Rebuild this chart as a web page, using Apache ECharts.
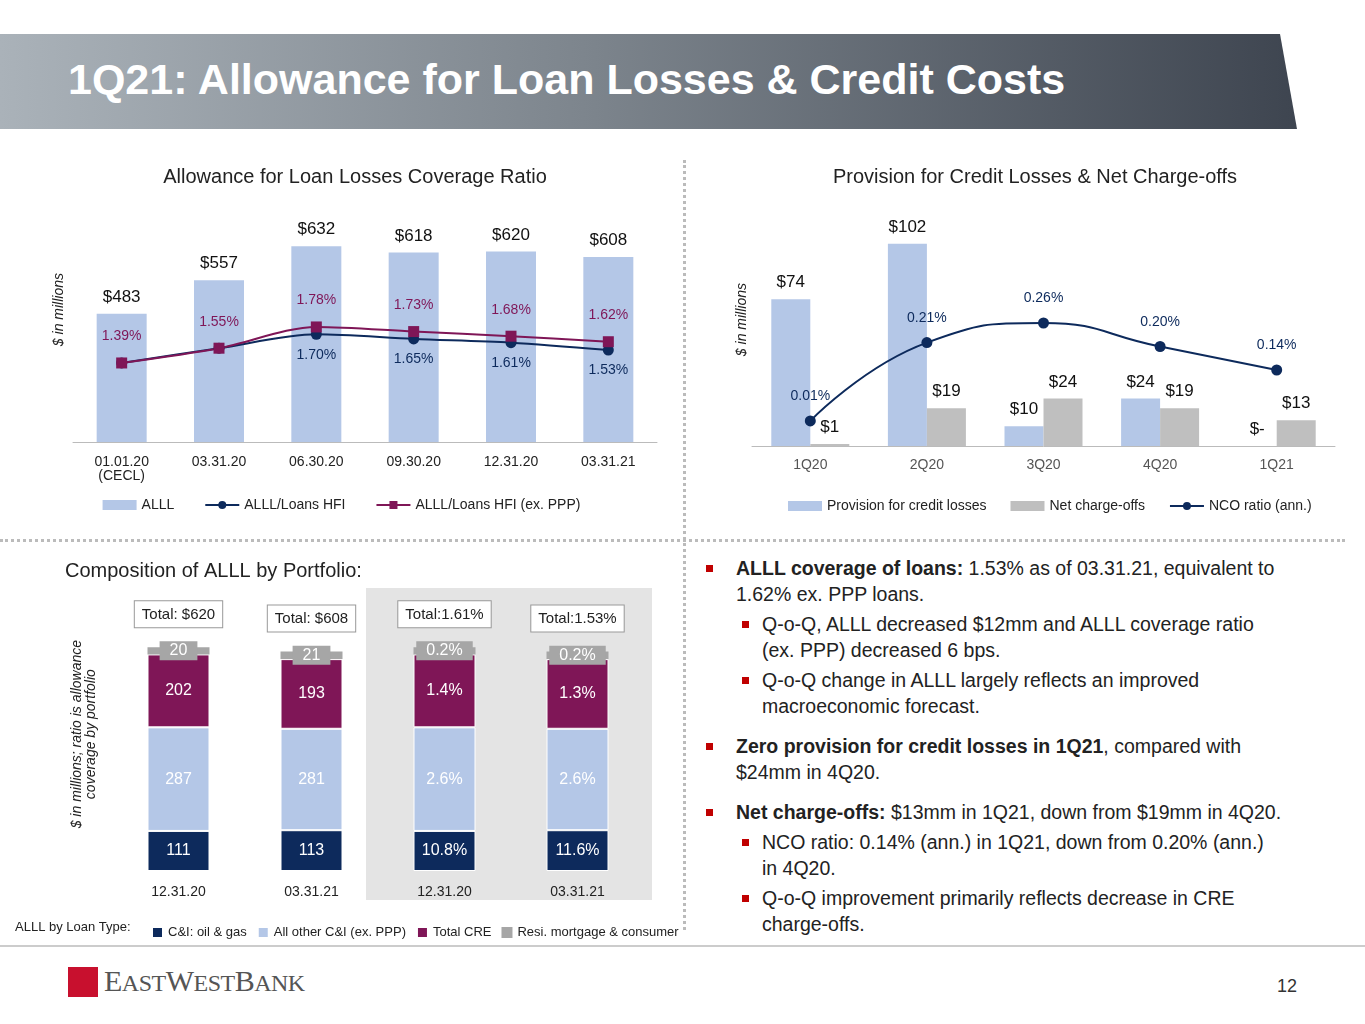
<!DOCTYPE html>
<html><head><meta charset="utf-8">
<script src="https://cdn.jsdelivr.net/npm/echarts@6/dist/echarts.min.js"></script>
<style>
body{margin:0;width:1365px;height:1024px;background:#fff;font-family:"Liberation Sans",Arial,sans-serif;position:relative;overflow:hidden}
.abs{position:absolute}
#banner{left:0;top:34px;width:1297px;height:95px;background:linear-gradient(90deg,#aab2b9 0%,#7d858d 45%,#3e4550 100%);clip-path:polygon(0 0,1280px 0,1297px 95px,0 95px)}
#title{left:68px;top:55px;color:#fff;font-weight:bold;font-size:43px;font-family:"Liberation Sans",Arial,sans-serif;white-space:nowrap}
.bl{font-size:19.5px;color:#222;line-height:26px}
.sq{position:absolute;width:7px;height:7px;background:#c00000}
</style></head><body>
<div id="banner" class="abs"></div>
<div id="title" class="abs">1Q21: Allowance for Loan Losses &amp; Credit Costs</div>
<div class="abs" style="left:683px;top:160px;height:770px;border-left:3px dotted #bbb"></div>
<div class="abs" style="left:0;top:539px;width:1345px;border-top:3px dotted #bbb"></div>
<div class="abs" style="left:366px;top:588px;width:286px;height:312px;background:#e4e4e4"></div>
<div id="c1" class="abs" style="left:0;top:140px;width:683px;height:400px"></div>
<div id="c2" class="abs" style="left:683px;top:140px;width:682px;height:400px"></div>
<div id="c3" class="abs" style="left:0;top:540px;width:683px;height:420px"></div>
<div class="abs" style="left:0;top:945px;width:1365px;border-top:2px solid #ccc"></div>
<div class="abs" style="left:68px;top:967px;width:30px;height:30px;background:#c8102e"></div>
<div class="abs" style="left:104px;top:964px;font-family:'Liberation Serif',serif;font-size:30px;color:#555;letter-spacing:-0.5px">E<span style="font-size:24px">AST</span>W<span style="font-size:24px">EST</span>B<span style="font-size:24px">ANK</span></div>
<div class="abs" style="left:1277px;top:976px;font-size:18px;color:#333">12</div>
<div class="abs bl" style="left:706px;top:555px;width:620px">
<div style="position:relative;padding-left:30px"><div class="sq" style="left:0;top:10px"></div><b>ALLL coverage of loans:</b> 1.53% as of 03.31.21, equivalent to<br>1.62% ex. PPP loans.</div>
<div style="position:relative;padding-left:56px;margin-top:4px"><div class="sq" style="left:36px;top:10px"></div>Q-o-Q, ALLL decreased $12mm and ALLL coverage ratio<br>(ex. PPP) decreased 6 bps.</div>
<div style="position:relative;padding-left:56px;margin-top:4px"><div class="sq" style="left:36px;top:10px"></div>Q-o-Q change in ALLL largely reflects an improved<br>macroeconomic forecast.</div>
<div style="position:relative;padding-left:30px;margin-top:14px"><div class="sq" style="left:0;top:10px"></div><b>Zero provision for credit losses in 1Q21</b>, compared with<br>$24mm in 4Q20.</div>
<div style="position:relative;padding-left:30px;margin-top:14px"><div class="sq" style="left:0;top:10px"></div><b>Net charge-offs:</b> $13mm in 1Q21, down from $19mm in 4Q20.</div>
<div style="position:relative;padding-left:56px;margin-top:4px"><div class="sq" style="left:36px;top:10px"></div>NCO ratio: 0.14% (ann.) in 1Q21, down from 0.20% (ann.)<br>in 4Q20.</div>
<div style="position:relative;padding-left:56px;margin-top:4px"><div class="sq" style="left:36px;top:10px"></div>Q-o-Q improvement primarily reflects decrease in CRE<br>charge-offs.</div>
</div>
<script>
const F='"Liberation Sans",Arial,sans-serif';
// chart 1
const c1Cats=['01.01.20\n(CECL)','03.31.20','06.30.20','09.30.20','12.31.20','03.31.21'];
const alll=[483,557,632,618,620,608];
const alllHfi=[1.39,1.55,1.70,1.65,1.61,1.53];
const alllExPpp=[1.39,1.55,1.78,1.73,1.68,1.62];
// chart 2
const c2Cats=['1Q20','2Q20','3Q20','4Q20','1Q21'];
const provision=[74,102,10,24,0];
const nco=[1,19,24,19,13];
const ncoRatio=[0.01,0.21,0.26,0.20,0.14];
// chart 3
const c3Cats=['12.31.20','03.31.21','12.31.20 ','03.31.21 '];
const ciOilGas=[111,113,111,113];
const otherCI=[287,281,287,281];
const totalCRE=[202,193,202,193];
const resi=[20,21,20,21];
const ciLabels=['111','113','10.8%','11.6%'];
const otherLabels=['287','281','2.6%','2.6%'];
const creLabels=['202','193','1.4%','1.3%'];
const resiLabels=['20','21','0.2%','0.2%'];
const totals=['Total: $620','Total: $608','Total:1.61%','Total:1.53%'];

const NAVY='#0d2a5c',PUR='#7f1657',LB='#b4c7e7',GR='#a6a6a6',GR2='#bfbfbf';
const ttl=(t,x)=>({text:t,left:x,top:22,textAlign:'center',textStyle:{fontFamily:F,fontSize:20,fontWeight:'normal',color:'#222'}});
const yname=(t,x,y)=>({type:'text',left:x,top:y,rotation:Math.PI/2,style:{text:t,fontFamily:F,fontSize:14,fontStyle:'italic',fill:'#222',textAlign:'center'}});

echarts.init(document.getElementById('c1')).setOption({
 animation:false,title:ttl('Allowance for Loan Losses Coverage Ratio',350),
 grid:{left:73,right:26,top:30,bottom:98},
 graphic:[yname('$ in millions',52,133)],
 legend:{top:353,left:'center',itemGap:30,textStyle:{fontFamily:F,fontSize:14,color:'#222'},itemWidth:34,itemHeight:10,
   data:[{name:'ALLL',icon:'rect'},'ALLL/Loans HFI','ALLL/Loans HFI (ex. PPP)']},
 xAxis:{type:'category',data:c1Cats,axisTick:{show:false},axisLine:{lineStyle:{color:'#bbb'}},axisLabel:{fontFamily:F,fontSize:14,color:'#222',margin:13}},
 yAxis:[{min:200,max:800,show:false},{min:0.534,max:3.48,show:false}],
 series:[
  {name:'ALLL',type:'bar',data:alll,barWidth:50,itemStyle:{color:LB},label:{show:true,position:'top',distance:8,formatter:p=>'$'+p.value,fontFamily:F,fontSize:17,color:'#111'}},
  {name:'ALLL/Loans HFI',type:'line',yAxisIndex:1,data:alllHfi,smooth:0.3,symbol:'circle',symbolSize:11,lineStyle:{color:NAVY,width:2},itemStyle:{color:NAVY},
   label:{show:true,position:'bottom',distance:8,fontFamily:F,fontSize:14,color:NAVY,formatter:p=>p.dataIndex<2?'':p.value.toFixed(2)+'%'}},
  {name:'ALLL/Loans HFI (ex. PPP)',type:'line',yAxisIndex:1,data:alllExPpp,smooth:0.3,symbol:'rect',symbolSize:11,lineStyle:{color:PUR,width:2},itemStyle:{color:PUR},
   label:{show:true,position:'top',distance:14,fontFamily:F,fontSize:14,color:PUR,formatter:p=>p.value.toFixed(2)+'%'}}
 ]});

echarts.init(document.getElementById('c2')).setOption({
 animation:false,title:ttl('Provision for Credit Losses & Net Charge-offs',347),
 grid:{left:69,right:30,top:60,bottom:94},
 graphic:[yname('$ in millions',52,143)],
 legend:{top:354,left:100,itemGap:24,textStyle:{fontFamily:F,fontSize:14,color:'#222'},itemWidth:34,itemHeight:10,
   data:[{name:'Provision for credit losses',icon:'rect'},{name:'Net charge-offs',icon:'rect'},'NCO ratio (ann.)']},
 xAxis:{type:'category',data:c2Cats,axisTick:{show:false},axisLine:{lineStyle:{color:'#bbb'}},axisLabel:{fontFamily:F,fontSize:14,color:'#555',margin:12}},
 yAxis:[{min:0,max:124,show:false},{min:-0.054,max:0.574,show:false}],
 series:[
  {name:'Provision for credit losses',type:'bar',data:provision,barWidth:39,barGap:'0%',itemStyle:{color:LB},
   label:{show:true,position:'top',distance:8,fontFamily:F,fontSize:17,color:'#111',formatter:p=>p.value===0?'$-':'$'+p.value}},
  {name:'Net charge-offs',type:'bar',data:nco,barWidth:39,itemStyle:{color:GR2},
   label:{show:true,position:'top',distance:8,fontFamily:F,fontSize:17,color:'#111',formatter:p=>'$'+p.value}},
  {name:'NCO ratio (ann.)',type:'line',yAxisIndex:1,data:ncoRatio,smooth:0.5,symbol:'circle',symbolSize:11,lineStyle:{color:NAVY,width:2},itemStyle:{color:NAVY},
   label:{show:true,position:'top',distance:12,fontFamily:F,fontSize:14,color:NAVY,formatter:p=>p.value.toFixed(2)+'%'}}
 ]});

const lab=(arr,extra)=>Object.assign({show:true,position:'inside',fontFamily:F,fontSize:16,color:'#fff',formatter:p=>arr[p.dataIndex]},extra||{});
echarts.init(document.getElementById('c3')).setOption({
 animation:false,
 title:{text:'Composition of ALLL by Portfolio:',left:60,top:16,textStyle:{fontFamily:F,fontSize:20,fontWeight:'normal',color:'#222'}},
 grid:{left:112,right:39,top:48,bottom:89},
 graphic:[yname('$ in millions; ratio is allowance\ncoverage by portfolio',70,100),
   {type:'text',left:15,top:381,style:{text:'ALLL by Loan Type:',fontFamily:F,fontSize:13,fill:'#222'}}],
 legend:{top:381,left:146,itemGap:10,itemWidth:11,itemHeight:11,icon:'rect',textStyle:{fontFamily:F,fontSize:13,color:'#222'},
   data:['C&I: oil & gas','All other C&I (ex. PPP)','Total CRE','Resi. mortgage & consumer']},
 xAxis:{type:'category',data:c3Cats,axisTick:{show:false},axisLine:{show:false},axisLabel:{fontFamily:F,fontSize:14,color:'#222',margin:14,formatter:v=>v.trim()}},
 yAxis:{min:0,max:784,show:false},
 series:[
  {name:'C&I: oil & gas',type:'bar',stack:'a',data:ciOilGas,barWidth:62,itemStyle:{color:NAVY,borderColor:'#fff',borderWidth:1},label:lab(ciLabels)},
  {name:'All other C&I (ex. PPP)',type:'bar',stack:'a',data:otherCI,itemStyle:{color:LB,borderColor:'#fff',borderWidth:1},label:lab(otherLabels)},
  {name:'Total CRE',type:'bar',stack:'a',data:totalCRE,itemStyle:{color:PUR,borderColor:'#fff',borderWidth:1},label:lab(creLabels)},
  {name:'Resi. mortgage & consumer',type:'bar',stack:'a',data:resi,itemStyle:{color:GR},label:lab(resiLabels,{backgroundColor:GR,padding:[2,10,1,10]})},
  {name:'tot',type:'bar',stack:'a',data:[0,0,0,0],itemStyle:{color:'transparent'},
   label:{show:true,position:'top',distance:20,formatter:p=>totals[p.dataIndex],fontFamily:F,fontSize:15,color:'#222',backgroundColor:'#fff',borderColor:'#999',borderWidth:1,padding:[6,7,5,7]}}
 ]});
</script>
</body></html>
